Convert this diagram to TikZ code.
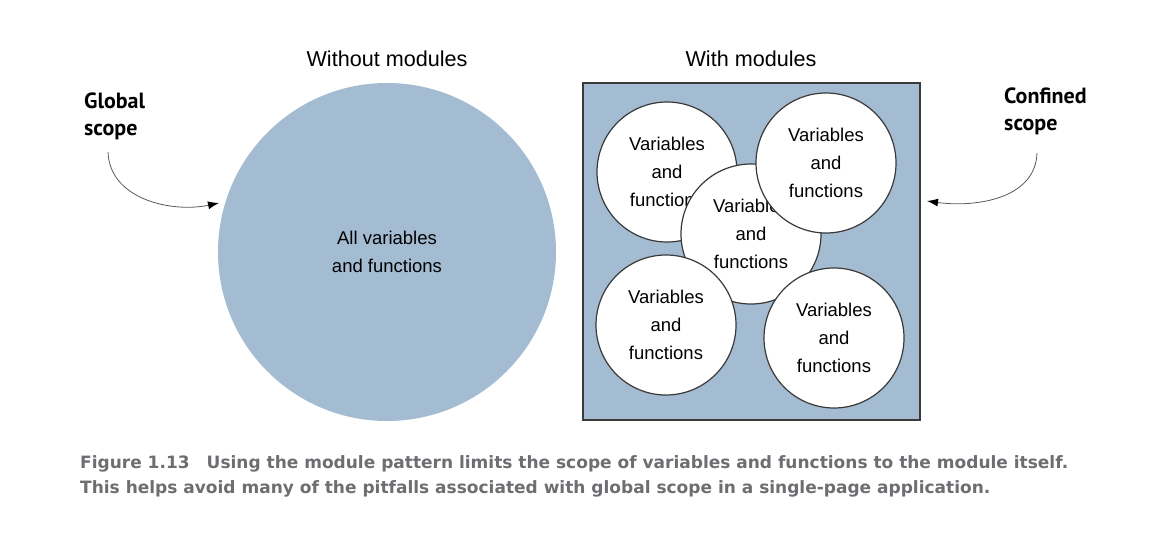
\documentclass[tikz,border=0pt]{standalone}
\usepackage{fontspec}
\setmainfont{Liberation Sans}
\newfontfamily\lblfont{PT Sans}
\newfontfamily\capfont{DejaVu Sans}
\usetikzlibrary{arrows.meta}
\definecolor{scopeblue}{HTML}{A4BCD2}
\definecolor{capgray}{HTML}{6D6E71}
\definecolor{edgegray}{HTML}{3A3A3A}
\begin{document}
\begin{tikzpicture}[x=1pt,y=-1pt,
  inner/.style={circle,draw=edgegray,line width=1.2pt,fill=white,minimum size=140pt,inner sep=0pt,
    align=center,font=\fontsize{18.5}{28}\selectfont},
  title/.style={font=\fontsize{21.6}{25}\selectfont},
  scopelbl/.style={font=\lblfont\bfseries\fontsize{22}{27}\selectfont,align=left,anchor=north west,inner sep=0pt},
  pointer/.style={draw=gray!70!black,line width=0.8pt,-{Latex[length=11pt,width=8pt,color=black]}}
]
\useasboundingbox (0,0) rectangle (1166,544);
% left
\node[circle,fill=scopeblue,minimum size=338pt,inner sep=0pt,align=center,
  font=\fontsize{18.5}{28}\selectfont] (global) at (387,252) {All variables\\and functions};
\node[title] (t1) at (387,59) {Without modules};
% right
\node[draw=edgegray,line width=1.5pt,fill=scopeblue,minimum width=337pt,minimum height=337pt,inner sep=0pt] (box) at (751.5,251.5) {};
\node[title] (t2) at (751,59) {With modules};
\node[inner] (m1) at (667,172) {Variables\\and\\functions};
\node[inner] (m3) at (751,234) {Variables\\and\\functions};
\node[inner] (m2) at (826,163) {Variables\\and\\functions};
\node[inner] (m4) at (666,325) {Variables\\and\\functions};
\node[inner] (m5) at (834,338) {Variables\\and\\functions};
% labels
\node[scopelbl] (gs) at (84,93) {Global\\scope};
\node[scopelbl] (cs) at (1004,88) {Confined\\scope};
\coordinate (gsa) at (108,152);
\coordinate (gse) at (219,203);
\coordinate (csa) at (1037,153);
\coordinate (cse) at (927,201);
\draw[pointer] (gsa) to[out=-88,in=192] (gse);
\draw[pointer] (csa) to[out=-92,in=-8] (cse);
% caption
\node[anchor=north west,inner sep=0pt,align=left,text=capgray,
  font=\capfont\bfseries\fontsize{17}{25}\selectfont] (cap) at (80,455)
  {Figure 1.13\hspace{17pt}Using the module pattern limits the scope of variables and functions to the module itself.\\
   This helps avoid many of the pitfalls associated with global scope in a single-page application.};
\end{tikzpicture}
\end{document}
